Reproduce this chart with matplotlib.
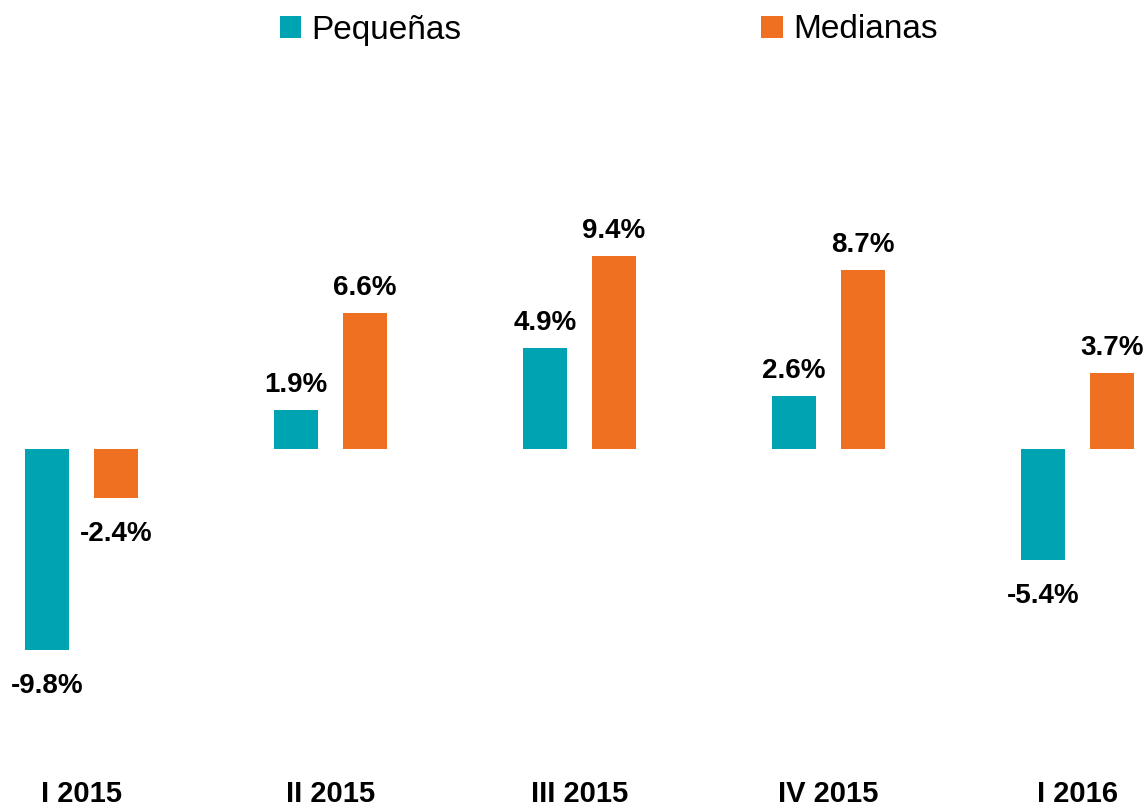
import matplotlib.pyplot as plt
import numpy as np

# Quarterly values (%)
quarters = ['I 2015', 'II 2015', 'III 2015', 'IV 2015', 'I 2016']
pequenas = [-9.8, 1.9, 4.9, 2.6, -5.4]
medianas = [-2.4, 6.6, 9.4, 8.7, 3.7]

teal = '#00A3B1'
orange = '#F07022'

plt.rcParams['font.family'] = ['Liberation Sans', 'DejaVu Sans']

fig = plt.figure(figsize=(11.44, 8.09), dpi=100)
ax = fig.add_axes([0, 39/809, 1, 1 - 39/809])

x = np.arange(len(quarters))
w = 44/249
off = 34.5/249
b1 = ax.bar(x - off, pequenas, w, color=teal, label='Pequeñas')
b2 = ax.bar(x + off, medianas, w, color=orange, label='Medianas')

for bars, vals in ((b1, pequenas), (b2, medianas)):
    for r, v in zip(bars, vals):
        xc = r.get_x() + r.get_width()/2
        dy = 13 if v >= 0 else -31
        ax.annotate('{:.1f}%'.format(v), (xc, v), xytext=(0, dy), textcoords='offset points',
                    ha='center', va='baseline', fontsize=20, fontweight='bold')

scale = 20.55
ax.set_xlim(-81.5/249, (1144-81.5)/249)
ax.set_ylim(-(770-449)/scale, 449/scale)
ax.set_xticks(x)
ax.set_xticklabels(quarters, fontsize=21, fontweight='bold')
ax.tick_params(axis='x', length=0, pad=7)
ax.set_yticks([])
for s in ax.spines.values():
    s.set_visible(False)

leg = fig.legend(handles=[b1, b2], loc='center', bbox_to_anchor=(0.532, 1 - 30/809), ncol=2,
                 frameon=False, fontsize=24, handlelength=0.65, handleheight=0.65,
                 handletextpad=0.3, columnspacing=9.0)

fig.savefig('out.png', dpi=100)
